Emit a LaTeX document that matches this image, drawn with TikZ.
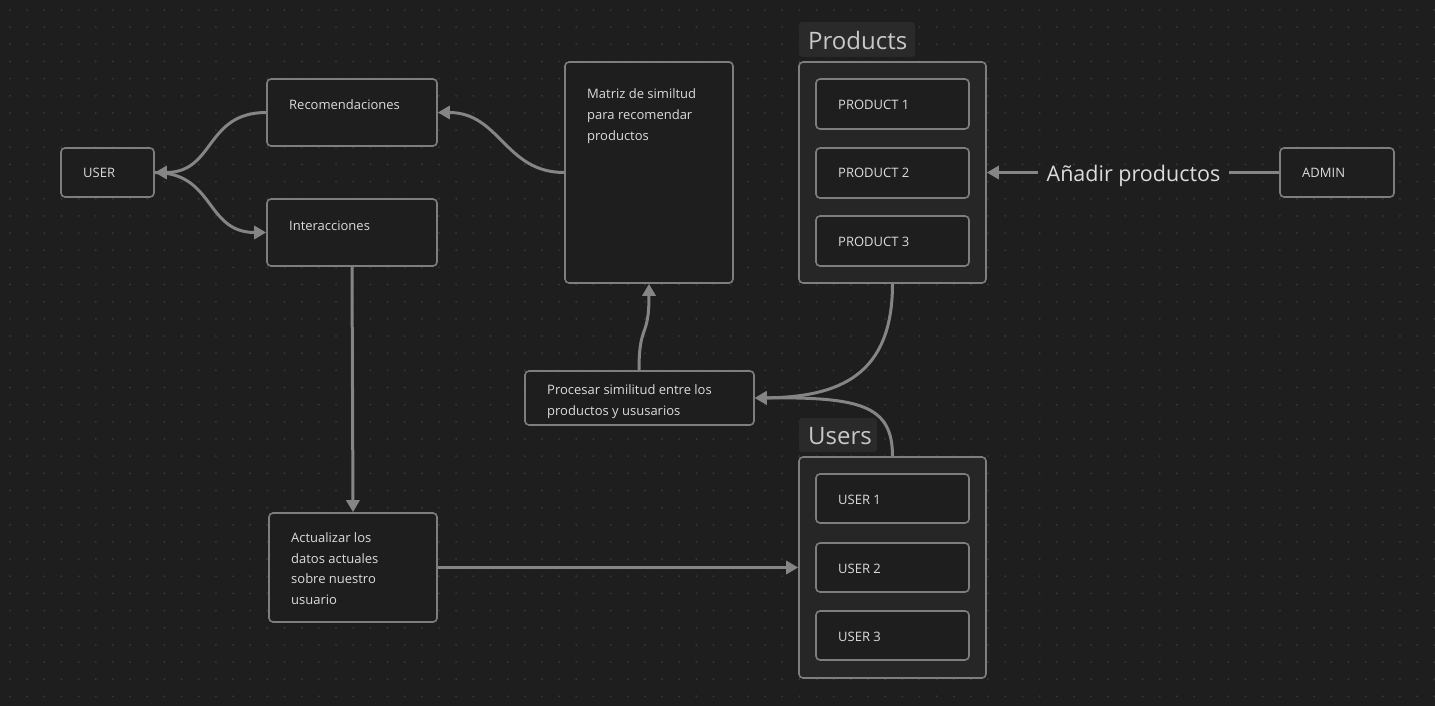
\documentclass[tikz,border=0pt]{standalone}
\usepackage{fontspec}
\setmainfont{Open Sans}
\usetikzlibrary{arrows.meta}
\definecolor{bgc}{HTML}{1E1E1E}
\definecolor{dotc}{HTML}{363636}
\definecolor{boxc}{HTML}{7E7E7E}
\definecolor{edgec}{HTML}{858585}
\definecolor{grpc}{HTML}{262626}
\definecolor{lblc}{HTML}{2A2A2A}
\definecolor{txtc}{HTML}{DCDCDC}
\definecolor{bigc}{HTML}{C8C8C8}
\tikzset{
  box/.style={draw=boxc, fill=bgc, rounded corners=4pt, line width=1.6pt, inner sep=0pt},
  grp/.style={draw=boxc, fill=grpc, rounded corners=4pt, line width=1.6pt, inner sep=0pt},
  lbl/.style={fill=lblc, rounded corners=3pt, inner sep=0pt},
  txt/.style={text=txtc, font=\fontsize{13}{20.6}\selectfont, align=left, inner sep=0pt, anchor=base west},
  bigtxt/.style={text=bigc, font=\fontsize{24}{28}\selectfont, inner sep=0pt, anchor=base west},
  edgelbl/.style={text=txtc, font=\fontsize{21.5}{26}\selectfont, inner sep=0pt, anchor=base},
  conn/.style={draw=edgec, line width=3pt, -{Triangle[length=12pt,width=13pt]}},
  plain/.style={draw=edgec, line width=3pt}
}
\begin{document}
\begin{tikzpicture}[x=1pt,y=-1pt]
\fill[bgc] (0,0) rectangle (1435,706);
\useasboundingbox (0,0) rectangle (1435,706);
\foreach \i in {0,...,83}{\foreach \j in {0,...,40}{\fill[dotc] ({10+17.16*\i},{10+17.16*\j}) circle (1.1);}}

% boxes
\node[box, minimum width=93pt, minimum height=49pt] (user) at (107.5,172.5) {};
\node[box, minimum width=170pt, minimum height=67pt] (rec) at (352,112.5) {};
\node[box, minimum width=170pt, minimum height=67pt] (inter) at (352,232.5) {};
\node[box, minimum width=168pt, minimum height=221pt] (mat) at (649,172.5) {};
\node[box, minimum width=229pt, minimum height=54pt] (proc) at (639.5,398) {};
\node[box, minimum width=168pt, minimum height=109pt] (act) at (353,567.5) {};
\node[box, minimum width=114pt, minimum height=49pt] (admin) at (1337,172.5) {};

% groups
\node[grp, minimum width=187pt, minimum height=221pt] (prods) at (892.5,172.5) {};
\node[lbl, minimum width=116pt, minimum height=35pt] (prodslbl) at (857,39.5) {};
\node[bigtxt] (prodst) at (808,49.5) {Products};
\node[box, minimum width=153pt, minimum height=50pt] (p1) at (892.5,104) {};
\node[box, minimum width=153pt, minimum height=50pt] (p2) at (892.5,173) {};
\node[box, minimum width=153pt, minimum height=50pt] (p3) at (892.5,241) {};

\node[grp, minimum width=187pt, minimum height=221pt] (users) at (892.5,567.5) {};
\node[lbl, minimum width=78pt, minimum height=34pt] (userslbl) at (838,435) {};
\node[bigtxt] (userst) at (808,444.5) {Users};
\node[box, minimum width=153pt, minimum height=49pt] (u1) at (892.5,498.5) {};
\node[box, minimum width=153pt, minimum height=49pt] (u2) at (892.5,567.5) {};
\node[box, minimum width=153pt, minimum height=49pt] (u3) at (892.5,635.5) {};

% texts (multi-line nodes: base = last line)
\node[txt] (tuser) at (83,178) {USER};
\node[txt] (trec) at (289,110) {Recomendaciones};
\node[txt] (tinter) at (289,230) {Interacciones};
\node[txt] (tmat) at (587,140.2) {Matriz de similtud\\para recomendar\\productos};
\node[txt] (tproc) at (547,415) {Procesar similitud entre los\\productos y ususarios};
\node[txt] (tact) at (291,604.5) {Actualizar los\\datos actuales\\sobre nuestro\\usuario};
\node[txt] (tadmin) at (1302,178) {ADMIN};
\node[txt] (tp1) at (838,110) {PRODUCT 1};
\node[txt] (tp2) at (838,178) {PRODUCT 2};
\node[txt] (tp3) at (838,246.5) {PRODUCT 3};
\node[txt] (tu1) at (838,504.5) {USER 1};
\node[txt] (tu2) at (838,573) {USER 2};
\node[txt] (tu3) at (838,641.5) {USER 3};

% connectors
\draw[conn] (rec.west) .. controls (205,112.5) and (215,172.5) .. (user.east);
\draw[conn] (user.east) .. controls (215,172.5) and (205,232.5) .. (inter.west);
\draw[conn] (mat.west) .. controls (505,172.5) and (500,112.5) .. (rec.east);
\draw[conn] (inter.south) -- (act.north);
\draw[conn] (act.east) -- (users.west);
\draw[conn] (proc.north -| 639,0) .. controls (639,322) and (649,340) .. (mat.south -| 649,0);
\draw[conn] (prods.south) .. controls (892.5,375) and (840,397) .. (proc.east);
\draw[conn] (users.north) .. controls (892.5,405) and (860,397) .. (proc.east);
\node[edgelbl] (addlbl) at (1133.5,181) {Añadir productos};
\draw[plain] (admin.west) -- ([xshift=8pt]addlbl.east |- admin.west);
\draw[conn] ([xshift=-8pt]addlbl.west |- prods.east) -- (prods.east);
\end{tikzpicture}
\end{document}
